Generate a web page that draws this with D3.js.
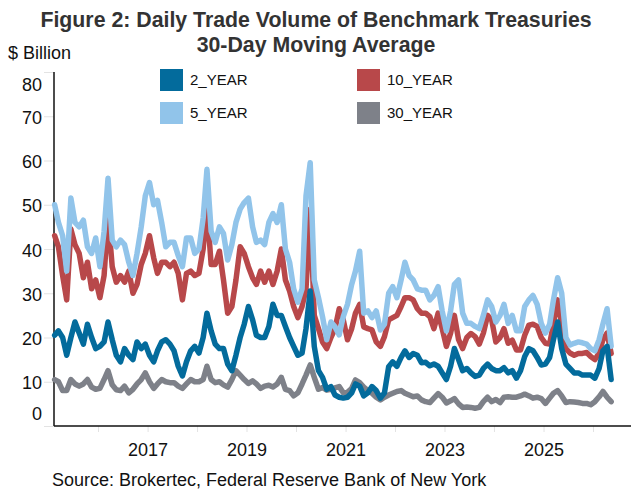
<!DOCTYPE html>
<html>
<head>
<meta charset="utf-8">
<script src="https://cdn.jsdelivr.net/npm/d3@7"></script>
<style>
  body { margin: 0; background: #fff; }
  text { font-family: "Liberation Sans", Arial, sans-serif; }
</style>
</head>
<body>
<script>
var chartWidth = 634,
    chartHeight = 489;

// one point per month (mid-month), Feb 2015 .. May 2026
var months = d3.timeMonth.range(new Date(2015, 1, 1), new Date(2026, 5, 1))
  .map(function(d) { return d3.timeDay.offset(d, 14); });

// $ billion
var y2 = [20.5, 21.5, 20, 16, 20, 23.5, 21, 18.5, 23, 20, 17.5,
  18, 19, 23.5, 19.5, 16, 14.5, 17.5, 16, 15, 19,
  17.5, 18.5, 16, 14.5, 17, 19, 19.5, 18.5, 17, 13.5,
  11.3, 14.5, 17, 18, 16.5, 20, 25.5, 21.5, 18.5, 17.5,
  17.5, 14, 12.5, 16, 20, 23, 27, 24, 20.5, 20,
  20, 22.5, 27.5, 25, 25, 22.5, 20, 18, 16, 16.5,
  22, 30.5, 18, 12.5, 11, 8.3, 8.9, 7, 6.5, 6.3,
  6.5, 7.5, 9.5, 9, 6.8, 7.5, 8.9, 8, 6.3, 7.5,
  13.4, 14.5, 13.5, 15.5, 17, 15.5, 16.4, 16, 14.3, 14.4,
  13.6, 14, 13.5, 12, 10.5, 13.5, 17.5, 15, 12.5, 13,
  12, 11.2, 11.5, 13, 14, 13, 12.5, 12.5, 13.2, 12,
  12.5, 10.8, 12.5, 15.7, 17.5, 17, 15.5, 13.8, 14, 15.5,
  19.5, 23.5, 17.5, 14, 13, 12, 12, 11.5, 11.5, 11.5,
  10.8, 13, 17, 18, 10.5];

var y5 = [50, 46, 43, 35, 51.5, 46, 45, 46.5, 40.5, 39, 42.5,
  36, 44, 56, 42, 40.5, 42, 41, 37, 34, 39,
  45, 52, 55, 50, 51, 46, 40.5, 41.5, 41.5, 38.5,
  36, 42.5, 42.5, 39, 40, 47, 58, 44, 41.5, 45,
  43.5, 37.5, 41, 46, 49, 50.5, 51.5, 45, 41.5, 42,
  41, 46, 48, 46, 50, 40, 37, 31, 28, 31,
  52, 59.5, 33, 29, 24.7, 19.5, 23.5, 22.4, 20.6, 24.7,
  27.5, 32, 35, 39.5, 25.5, 26, 24.5, 26, 21.7, 23,
  30, 31.5, 29, 33, 37, 34, 33, 31, 30.7, 30.7,
  28.5, 29.5, 31.5, 26, 21.5, 26, 32, 33, 25.5, 23.2,
  23.2, 22.5, 22, 25, 28.5, 27, 23.5, 25, 27.5, 23.2,
  25, 21.5, 21.5, 27, 28.5, 29.5, 27.5, 23.2, 21, 23,
  28.5, 33.5, 30, 20, 18.3, 18.7, 19, 18.8, 18.5, 17.5,
  17, 19.5, 23, 26.5, 18];

var y10 = [43, 40.5, 34, 28.5, 44.5, 41, 39, 33.5, 37, 31, 33,
  29, 34, 47.5, 36, 32.5, 34, 32.5, 35, 30, 32,
  36.5, 39, 43, 38, 34.5, 37, 37, 36, 37, 34.5,
  28.5, 34.5, 35, 34, 34.5, 40, 49.5, 36.5, 36.5, 39.5,
  33, 25.5, 27, 33, 40.5, 39, 36, 33.5, 32, 35,
  32.5, 35, 32, 35, 40, 33, 30.5, 27, 24.5, 27,
  31, 49, 25, 22, 19, 17.5, 20, 22, 26.5, 24,
  19.5, 22, 25.5, 27.5, 22.4, 22, 21.7, 19, 18, 20.2,
  24, 24.5, 25, 27, 29, 29, 28.5, 26.5, 25.5, 25.5,
  24.7, 22, 25.5, 22, 18, 21, 25, 19.5, 17.5, 20,
  20.9, 20.2, 18.5, 21, 25, 24, 19, 20, 22, 18.7,
  19.4, 17.2, 17.2, 20.5, 22.8, 23, 22.5, 20, 18.7, 18.5,
  23, 28.5, 23, 17.5, 16.5, 16, 16.4, 16.4, 16.6, 15.7,
  15, 16.5, 19.5, 21, 16.4];

var y30 = [10.5, 10, 8, 8, 10.5, 9.5, 9, 9.5, 10.5, 8.8, 8.3,
  8.5, 10.5, 12.5, 9.3, 8.2, 8, 9, 7.5, 8.3, 9.5,
  10.5, 12, 10, 8.5, 9.5, 10.5, 10, 9.8, 9.8, 9,
  8.5, 9.5, 10.5, 10, 10, 10.5, 13.5, 10.5, 9.8, 10,
  9.3, 8.8, 10.5, 12.5, 11.5, 10.5, 9.6, 10.2, 9.5, 8.5,
  9, 9.2, 8.8, 9.5, 11, 8.3, 8, 6.8, 7.5, 9.5,
  11.5, 13.8, 11, 8.3, 8.7, 8.1, 8.3, 8.6, 8.9, 7.5,
  7.6, 8.5, 10.4, 9.8, 8.8, 8, 7.4, 6.5, 5.9, 6.5,
  7, 7.4, 7.8, 8, 7.4, 7, 6.6, 6.8, 5.9, 5.5,
  5.3, 6.3, 7.3, 6.5, 5.2, 5.7, 6.2, 5, 4.2, 4.3,
  4.2, 4, 4.2, 5.5, 6.5, 5.5, 6, 5.3, 6.5, 6.6,
  6.5, 6.5, 6.8, 7.2, 6.8, 6.3, 6.5, 6.2, 5.1, 6.3,
  7.4, 8, 6.8, 5.3, 5.5, 5.4, 5.3, 5.1, 5.1, 4.8,
  5.5, 6.6, 7.8, 6.5, 5.5];

var seriesNames = ['2_YEAR', '5_YEAR', '10_YEAR', '30_YEAR'];
var yTicks = [0, 10, 20, 30, 40, 50, 60, 70, 80];
var xTickYears = d3.range(2016, 2027);

var colours = { '2_YEAR': '#036b9c', '5_YEAR': '#91c4ea', '10_YEAR': '#b8484a', '30_YEAR': '#7e8189' };
var seriesValues = { '2_YEAR': y2, '5_YEAR': y5, '10_YEAR': y10, '30_YEAR': y30 };

var svg = d3.select('body')
  .append('svg')
    .attr('xmlns', 'http://www.w3.org/2000/svg')
    .attr('width', chartWidth)
    .attr('height', chartHeight);

var x = d3.scaleTime()
  .domain([new Date(2016, 0, 1), new Date(2026, 0, 1)])
  .range([98, 593]);

var y = d3.scaleLinear()
  .domain([0, 80])
  .range([426, 72]);

var plotLeft = 54, plotRight = 631;

// titles
svg.append('text')
  .attr('x', 316).attr('y', 27)
  .attr('text-anchor', 'middle')
  .attr('font-size', 21.3).attr('font-weight', 'bold').attr('fill', '#333')
  .text('Figure 2: Daily Trade Volume of Benchmark Treasuries');
svg.append('text')
  .attr('x', 316).attr('y', 52)
  .attr('text-anchor', 'middle')
  .attr('font-size', 21.3).attr('font-weight', 'bold').attr('fill', '#333')
  .text('30-Day Moving Average');
svg.append('text')
  .attr('x', 8).attr('y', 59)
  .attr('font-size', 18).attr('fill', '#111')
  .text('$ Billion');

// y axis
var yAxis = svg.append('g')
  .attr('transform', 'translate(' + plotLeft + ',0)')
  .call(d3.axisLeft(y).tickValues(yTicks).tickSize(10).tickPadding(2));
yAxis.selectAll('text')
  .attr('font-size', 18).attr('fill', '#111')
  .attr('dy', function(d) { return d === 80 ? '1.05em' : d === 0 ? '-0.35em' : '0.4em'; });
yAxis.selectAll('.tick line').attr('stroke', '#e3e3e3');
yAxis.select('.domain').remove();
yAxis.attr('font-family', null);

// x axis, a tick every year, label every other year
var xAxis = svg.append('g')
  .attr('transform', 'translate(0,' + y(0) + ')')
  .call(d3.axisBottom(x)
    .tickValues(xTickYears.map(function(yr) { return new Date(yr, 0, 1); }))
    .tickSize(6)
    .tickFormat(function(d) { return d.getFullYear() % 2 ? d.getFullYear() : ''; }));
xAxis.selectAll('text')
  .attr('font-size', 18).attr('fill', '#111')
  .attr('y', 17).attr('dy', '0.71em');
xAxis.selectAll('.tick line').attr('stroke', '#e3e3e3');
xAxis.select('.domain').remove();
xAxis.attr('font-family', null);

// axis lines
svg.append('line')
  .attr('x1', plotLeft).attr('x2', plotLeft)
  .attr('y1', y(80)).attr('y2', y(0))
  .attr('stroke', '#111').attr('stroke-width', 1.5);
svg.append('line')
  .attr('x1', plotLeft).attr('x2', plotRight)
  .attr('y1', y(0)).attr('y2', y(0))
  .attr('stroke', '#111').attr('stroke-width', 1.5);

// series lines, 30Y at the back, 2Y on top
var line = d3.line()
  .x(function(d) { return x(d.date); })
  .y(function(d) { return y(d.value); });

['30_YEAR', '10_YEAR', '5_YEAR', '2_YEAR'].forEach(function(name) {
  var pts = months.map(function(m, i) { return { date: m, value: seriesValues[name][i] }; });
  svg.append('path')
    .datum(pts)
    .attr('d', line)
    .attr('fill', 'none')
    .attr('stroke', colours[name])
    .attr('stroke-width', 5.5)
    .attr('stroke-linejoin', 'round')
    .attr('stroke-linecap', 'round');
});

// legend, two columns
var legendCols = [160, 357], legendRows = [69, 102];
var legendOrder = [['2_YEAR', 0, 0], ['10_YEAR', 1, 0], ['5_YEAR', 0, 1], ['30_YEAR', 1, 1]];
var legend = svg.selectAll('g.legend')
  .data(legendOrder)
  .enter().append('g')
    .attr('class', 'legend')
    .attr('transform', function(d) { return 'translate(' + legendCols[d[1]] + ',' + legendRows[d[2]] + ')'; });
legend.append('rect')
  .attr('width', 23).attr('height', 22)
  .attr('fill', function(d) { return colours[d[0]]; });
legend.append('text')
  .attr('x', 30).attr('y', 11).attr('dy', '0.36em')
  .attr('font-size', 15).attr('fill', '#111')
  .text(function(d) { return d[0]; });

// source
svg.append('text')
  .attr('x', 52).attr('y', 486)
  .attr('font-size', 18).attr('fill', '#111')
  .text('Source: Brokertec, Federal Reserve Bank of New York');
</script>
</body>
</html>
